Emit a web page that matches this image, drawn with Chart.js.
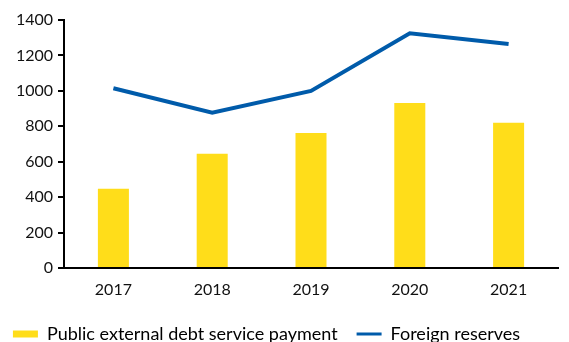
<!DOCTYPE html>
<html>
<head>
<meta charset="utf-8">
<script src="https://cdn.jsdelivr.net/npm/chart.js@4"></script>
<style>
  html, body { margin: 0; padding: 0; background: #fff; }
  #wrap { width: 569px; height: 342px; }
</style>
</head>
<body>
<div id="wrap"><canvas id="chart" width="569" height="342"></canvas></div>
<script>
// Data
const years = ["2017", "2018", "2019", "2020", "2021"];
const debtService = [447, 645, 762, 932, 820];
const reserves = [1015, 877, 1000, 1325, 1265];
const yTicks = [0, 200, 400, 600, 800, 1000, 1200, 1400];

const yellow = "#FFDD1A";
const blue = "#005BAA";
const font = "Lato, 'Open Sans', sans-serif";

new Chart(document.getElementById("chart"), {
  data: {
    labels: years,
    datasets: [
      {
        type: "line",
        label: "Foreign reserves",
        data: reserves,
        borderColor: blue,
        borderWidth: 4,
        pointRadius: 0,
        tension: 0,
        order: 0
      },
      {
        type: "bar",
        label: "Public external debt service payment",
        data: debtService,
        backgroundColor: yellow,
        categoryPercentage: 1,
        barPercentage: 0.314,
        order: 1
      }
    ]
  },
  options: {
    responsive: false,
    animation: false,
    // negative left pad shifts the legend left, y axis width makes up for it
    layout: { padding: { left: -25, right: 11, top: 20, bottom: -11 } },
    plugins: {
      tooltip: { enabled: false },
      legend: {
        position: "bottom",
        labels: {
          font: { family: font, size: 18 },
          color: "#111",
          usePointStyle: true,
          pointStyleWidth: 25,
          boxHeight: 7,
          padding: 19,
          generateLabels: () => [
            { text: "Public external debt service payment", pointStyle: "rect", fillStyle: yellow, strokeStyle: yellow, lineWidth: 0, datasetIndex: 1 },
            { text: "Foreign reserves", pointStyle: "line", fillStyle: blue, strokeStyle: blue, lineWidth: 3, datasetIndex: 0 }
          ]
        }
      }
    },
    scales: {
      x: {
        afterFit: s => { s.height = 38; },
        grid: { display: false },
        border: { color: "#000", width: 2 },
        ticks: { font: { family: font, size: 16 }, color: "#111", padding: 4 }
      },
      y: {
        min: 0,
        max: 1400,
        afterBuildTicks: s => { s.ticks = yTicks.map(v => ({ value: v })); },
        afterFit: s => { s.width = 89; },
        grid: { drawOnChartArea: false, drawTicks: true, tickLength: 6, color: "#000", lineWidth: 2 },
        border: { color: "#000", width: 2 },
        ticks: { font: { family: font, size: 16 }, color: "#111", padding: 5, callback: v => String(v) }
      }
    }
  }
});
</script>
</body>
</html>
